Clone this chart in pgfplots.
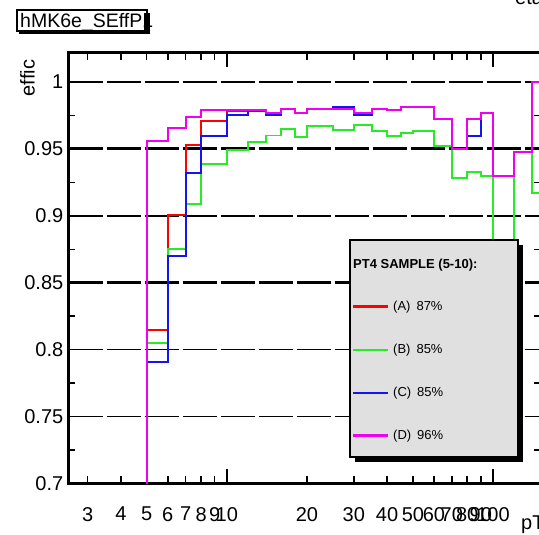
\documentclass[border=0pt]{standalone}
\usepackage{pgfplots}
\pgfplotsset{compat=1.18}
\usepackage{fontspec}
\setmainfont{Liberation Sans}
\definecolor{hred}{RGB}{255,0,0}
\definecolor{hgreen}{RGB}{40,235,40}
\definecolor{hblue}{RGB}{20,20,240}
\definecolor{hmag}{RGB}{240,0,240}
\definecolor{leggray}{RGB}{224,224,224}
\begin{document}
\begin{tikzpicture}
\path[use as bounding box] (0pt,0pt) rectangle (539pt,535pt);
\clip (0pt,0pt) rectangle (539pt,535pt);
\begin{axis}[
  at={(68.5pt,51.5pt)}, anchor=south west,
  width=472.5pt, height=430.5pt, scale only axis,
  xmode=log, xmin=2.541, xmax=151.5,
  ymin=0.7, ymax=1.0217,
  axis line style={line width=3pt},
  tick align=inside,
  xtick pos=both, ytick pos=both,
  xticklabel pos=lower, yticklabel pos=left,
  tick style={line width=1.5pt, black},
  major tick length=7pt, minor tick length=7pt,
  xtick={3,4,5,6,7,8,9,10,20,30,40,50,60,70,80,90,100},
  xticklabels={3,4,5,6,7,8,9,10,20,30,40,50,60,70,80,90,100},
  minor xtick={},
  extra x ticks={10,100},
  extra x tick labels={,},
  extra x tick style={major tick length=14pt},
  ytick={0.7,0.75,0.8,0.85,0.9,0.95,1},
  yticklabels={0.7,0.75,0.8,0.85,0.9,0.95,1},
  minor ytick={0.725,0.775,0.825,0.875,0.925,0.975},
  /pgf/number format/assume math mode=true,
  xticklabel style={font=\fontsize{20pt}{20pt}\selectfont, inner sep=0pt, anchor=north, yshift=-23.5pt},
  yticklabel style={font=\fontsize{20pt}{20pt}\selectfont, inner sep=0pt, anchor=east, xshift=-5pt},
  clip=true,
]
% grid lines
\draw[line width=1.5pt, dash pattern=on 34pt off 4pt] ({rel axis cs:0,0}|-{axis cs:10,1}) -- ({rel axis cs:1,0}|-{axis cs:10,1});
\draw[line width=3pt, dash pattern=on 34pt off 4pt] ({rel axis cs:0,0}|-{axis cs:10,0.95}) -- ({rel axis cs:1,0}|-{axis cs:10,0.95});
\draw[line width=1.5pt, dash pattern=on 34pt off 4pt] ({rel axis cs:0,0}|-{axis cs:10,0.9}) -- ({rel axis cs:1,0}|-{axis cs:10,0.9});
\draw[line width=3pt, dash pattern=on 34pt off 4pt] ({rel axis cs:0,0}|-{axis cs:10,0.85}) -- ({rel axis cs:1,0}|-{axis cs:10,0.85});
\draw[line width=1.5pt, dash pattern=on 34pt off 4pt] ({rel axis cs:0,0}|-{axis cs:10,0.8}) -- ({rel axis cs:1,0}|-{axis cs:10,0.8});
\draw[line width=1.5pt, dash pattern=on 34pt off 4pt] ({rel axis cs:0,0}|-{axis cs:10,0.75}) -- ({rel axis cs:1,0}|-{axis cs:10,0.75});
% (A) red
\addplot[const plot mark left, hred, line width=2pt, mark=none] coordinates {
(4,0) (5,0.815) (6,0.9005) (7,0.953) (8,0.971) (10,0.978) (12,0.979) (14,0.977) (16,0.980) (18,0.9766) (20,0.980) (25,0.980) (30,0.9766) (35,0.980) (40,0.979) (45,0.9815) (50,0.9815) (60,0.972) (70,0.950) (80,0.972) (90,0.977) (100,0.930) (120,0.948) (140,1.0) (160,1.0)};
% (B) green
\addplot[const plot mark left, hgreen, line width=1.8pt, mark=none] coordinates {
(4,0) (5,0.805) (6,0.875) (7,0.909) (8,0.939) (10,0.949) (12,0.955) (14,0.960) (16,0.9646) (18,0.959) (20,0.967) (25,0.964) (30,0.968) (35,0.9636) (40,0.9596) (45,0.962) (50,0.9633) (60,0.952) (70,0.928) (80,0.933) (90,0.9296) (100,0.80) (120,0.948) (140,0.917) (160,0.917)};
% (C) blue
\addplot[const plot mark left, hblue, line width=2pt, mark=none] coordinates {
(4,0) (5,0.791) (6,0.870) (7,0.932) (8,0.960) (10,0.975) (12,0.978) (14,0.9755) (16,0.980) (18,0.9766) (20,0.980) (25,0.981) (30,0.9755) (35,0.980) (40,0.979) (45,0.9815) (50,0.9815) (60,0.972) (70,0.950) (80,0.960) (90,0.977) (100,0.930) (120,0.948) (140,1.0) (160,1.0)};
% (D) magenta
\addplot[const plot mark left, hmag, line width=2pt, mark=none] coordinates {
(4,0) (5,0.956) (6,0.966) (7,0.9736) (8,0.979) (10,0.979) (12,0.979) (14,0.977) (16,0.980) (18,0.9766) (20,0.980) (25,0.980) (30,0.9766) (35,0.980) (40,0.979) (45,0.9815) (50,0.9815) (60,0.972) (70,0.950) (80,0.972) (90,0.977) (100,0.930) (120,0.948) (140,1.0) (160,1.0)};
\end{axis}
% y label
\node[rotate=90, font=\fontsize{20pt}{20pt}\selectfont, inner sep=0pt] at (27.5pt,457pt) {effic};
% x label
\node[anchor=base west, font=\fontsize{20pt}{20pt}\selectfont, inner sep=0pt] at (521pt,5pt) {pT};
% cut off stats text
\node[anchor=base west, font=\fontsize{20pt}{20pt}\selectfont, inner sep=0pt] at (515pt,530pt) {eta};
% title box
\fill[black] (19pt,501pt) rectangle (150pt,522pt);
\filldraw[fill=white, draw=black, line width=1.2pt] (17pt,504pt) rectangle (147pt,525pt);
\node[anchor=base west, font=\fontsize{19.5pt}{19.5pt}\selectfont, inner sep=0pt] at (20pt,507.5pt) {hMK6e\_SEffP1};
\fill[black] (144pt,501pt) rectangle (150pt,522pt);
% legend
\fill[black] (355pt,73pt) rectangle (523pt,290pt);
\filldraw[fill=leggray, draw=black, line width=2pt] (350pt,78pt) rectangle (518pt,295pt);
\node[anchor=west, font=\fontsize{13pt}{13pt}\selectfont\bfseries, inner sep=0pt] at (353pt,270pt) {PT4 SAMPLE (5-10):};
\draw[hred, line width=3pt] (353pt,228pt) -- (388pt,228pt);
\node[anchor=west, font=\fontsize{13pt}{13pt}\selectfont, inner sep=0pt] at (393pt,228pt) {(A)\hspace{6pt}87\%};
\draw[hgreen, line width=2pt] (353pt,185pt) -- (388pt,185pt);
\node[anchor=west, font=\fontsize{13pt}{13pt}\selectfont, inner sep=0pt] at (393pt,185pt) {(B)\hspace{6pt}85\%};
\draw[hblue, line width=2pt] (353pt,142pt) -- (388pt,142pt);
\node[anchor=west, font=\fontsize{13pt}{13pt}\selectfont, inner sep=0pt] at (393pt,142pt) {(C)\hspace{6pt}85\%};
\draw[hmag, line width=3pt] (353pt,99pt) -- (388pt,99pt);
\node[anchor=west, font=\fontsize{13pt}{13pt}\selectfont, inner sep=0pt] at (393pt,99pt) {(D)\hspace{6pt}96\%};
\end{tikzpicture}
\end{document}
